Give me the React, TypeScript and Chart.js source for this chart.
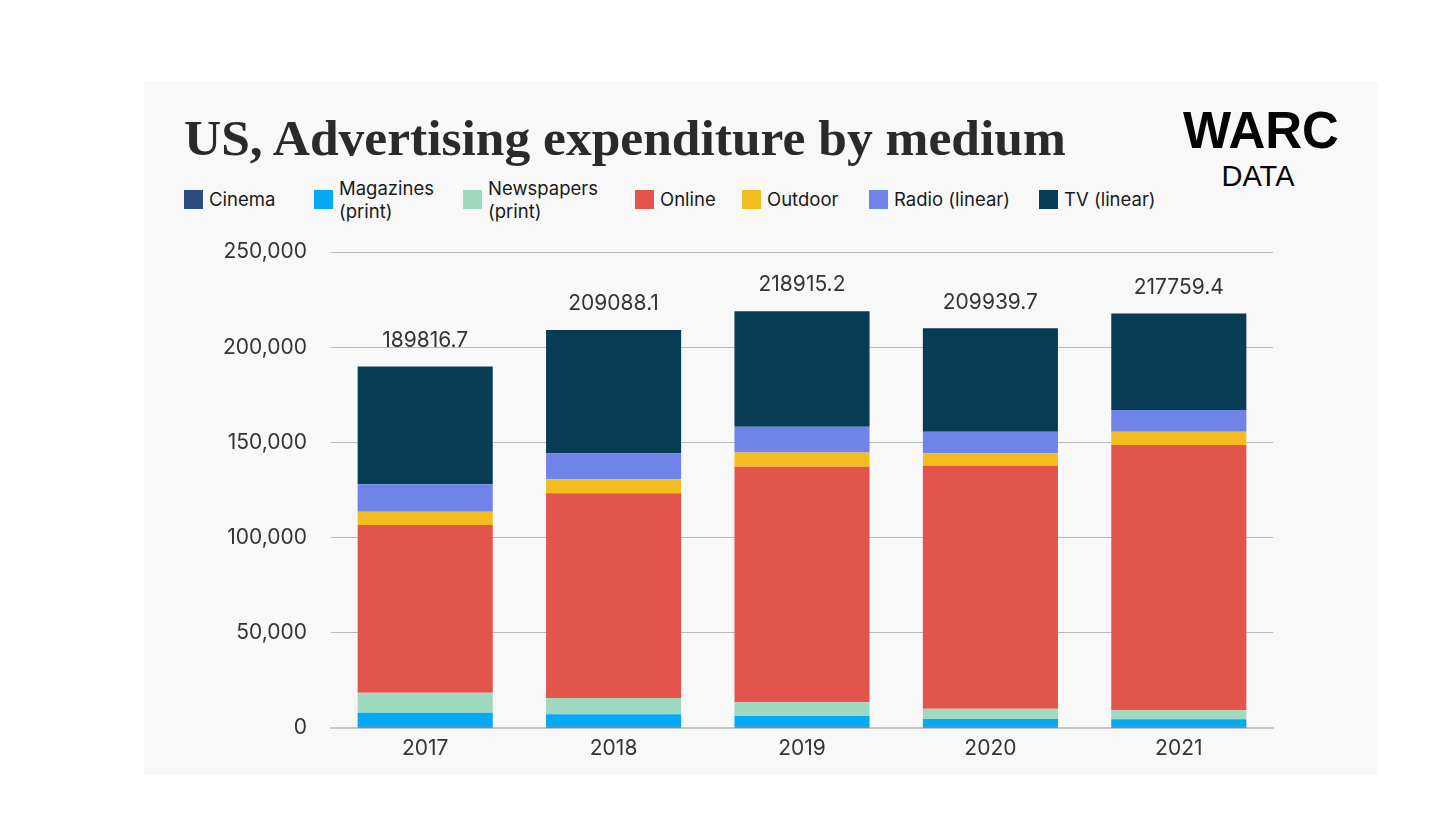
import React, { useEffect, useRef } from "react";
import { Chart, registerables } from "chart.js";

Chart.register(...registerables);

// ---- data ----
const years = ["2017", "2018", "2019", "2020", "2021"];
const cinema = [700, 700, 700, 600, 600];
const magazines = [7300, 6500, 5600, 4130, 3950];
const newspapers = [10540, 8560, 7200, 5420, 4730];
const online = [88060, 107490, 123700, 127600, 139320];
const outdoor = [7000, 7350, 7550, 6500, 7000];
const radio = [14390, 13670, 13500, 11350, 11400];
const tv = [61827, 64818, 60665, 54340, 50760];
const totalLabels = ["189816.7", "209088.1", "218915.2", "209939.7", "217759.4"];
const yTickValues = [0, 50000, 100000, 150000, 200000, 250000];

const seriesNames = [
  ["Cinema"],
  ["Magazines", "(print)"],
  ["Newspapers", "(print)"],
  ["Online"],
  ["Outdoor"],
  ["Radio (linear)"],
  ["TV (linear)"],
];
const seriesValues = [cinema, magazines, newspapers, online, outdoor, radio, tv];

// ---- styles ----
const seriesColors = ["#2e4b7e", "#00aaf5", "#9fd9c0", "#e2544c", "#f3bc1f", "#6f83e9", "#073c55"];
const legendLeft = [184, 314, 463, 635, 742, 869, 1039];
const tickColor = "#343434";
const sansFont = "Inter, 'Noto Sans', sans-serif";

export default function App() {
  const canvasRef = useRef<HTMLCanvasElement | null>(null);

  useEffect(() => {
    if (!canvasRef.current) return;
    const totalsPlugin = {
      id: "totals",
      afterDatasetsDraw(chart: any) {
        const ctx = chart.ctx;
        const meta = chart.getDatasetMeta(chart.data.datasets.length - 1);
        ctx.save();
        ctx.font = `21px ${sansFont}`;
        ctx.fillStyle = tickColor;
        ctx.textAlign = "center";
        ctx.textBaseline = "middle";
        meta.data.forEach((el: any, i: number) => {
          ctx.fillText(totalLabels[i], el.x, el.y - 26);
        });
        ctx.restore();
      },
    };

    const chart = new Chart(canvasRef.current, {
      type: "bar",
      data: {
        labels: years,
        datasets: seriesValues.map((vals, i) => ({
          label: seriesNames[i].join(" "),
          data: vals,
          backgroundColor: seriesColors[i],
          borderWidth: 0,
          barPercentage: 0.717,
          categoryPercentage: 1,
        })),
      },
      options: {
        animation: false,
        responsive: false,
        layout: { padding: { top: 22, right: 105, left: 0, bottom: 0 } },
        plugins: {
          legend: { display: false },
          tooltip: { enabled: false },
        },
        scales: {
          x: {
            stacked: true,
            grid: { display: false, drawTicks: false },
            border: { display: true, color: "#c4c4c4", width: 2 },
            ticks: {
              color: tickColor,
              font: { family: sansFont, size: 21 },
              padding: 8,
            },
            afterFit(s: any) {
              s.height = 47;
              s.paddingLeft = 0;
              s.paddingRight = 0;
            },
          },
          y: {
            stacked: true,
            min: 0,
            max: 250000,
            afterBuildTicks(s: any) {
              s.ticks = yTickValues.map((v) => ({ value: v }));
            },
            grid: { color: "#b9b9b9", lineWidth: 1, drawTicks: false },
            border: { display: false },
            ticks: {
              color: tickColor,
              font: { family: sansFont, size: 21 },
              padding: 24,
              callback: (v: any) => Number(v).toLocaleString("en-US"),
            },
            afterFit(s: any) {
              s.width = 187;
              s.paddingTop = 0;
              s.paddingBottom = 0;
            },
          },
        },
      },
      plugins: [totalsPlugin],
    });
    return () => chart.destroy();
  }, []);

  return (
    <div style={{ position: "absolute", left: 0, top: 0, width: 1449, height: 835, background: "#ffffff", overflow: "hidden" }}>
      <div style={{ position: "absolute", left: 144, top: 82, width: 1234, height: 693, background: "#f8f8f8" }} />
      <div
        style={{
          position: "absolute",
          left: 184,
          top: 112,
          font: "bold 51.5px 'Liberation Serif', serif",
          lineHeight: "51px",
          color: "#2a2a2a",
          whiteSpace: "nowrap",
        }}
      >
        US, Advertising expenditure by medium
      </div>
      <div
        style={{
          position: "absolute",
          left: 1181,
          top: 105,
          width: 160,
          textAlign: "center",
          font: "900 51px 'Liberation Sans', Arial, sans-serif",
          lineHeight: "51px",
          color: "#050505",
          whiteSpace: "nowrap",
        }}
      >
        WARC
      </div>
      <div
        style={{
          position: "absolute",
          left: 1178,
          top: 162,
          width: 160,
          textAlign: "center",
          font: "29px 'Liberation Sans', Arial, sans-serif",
          lineHeight: "29px",
          color: "#050505",
          whiteSpace: "nowrap",
        }}
      >
        DATA
      </div>
      {seriesNames.map((lines, i) => (
        <React.Fragment key={i}>
          <div
            style={{
              position: "absolute",
              left: legendLeft[i],
              top: 190,
              width: 19,
              height: 19,
              background: seriesColors[i],
            }}
          />
          <div
            style={{
              position: "absolute",
              left: legendLeft[i] + 25,
              top: 199.5 - (lines.length * 23) / 2,
              font: `18.5px ${sansFont}`,
              lineHeight: "23px",
              color: "#1a1a1a",
              whiteSpace: "nowrap",
            }}
          >
            {lines.map((l, j) => (
              <div key={j}>{l}</div>
            ))}
          </div>
        </React.Fragment>
      ))}
      <canvas
        ref={canvasRef}
        width={1234}
        height={545}
        style={{ position: "absolute", left: 144, top: 230, width: 1234, height: 545, display: "block" }}
      />
    </div>
  );
}
